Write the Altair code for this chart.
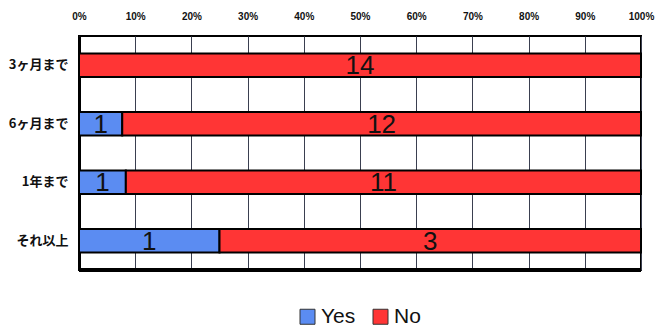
import altair as alt
import pandas as pd

categories = ["3ヶ月まで", "6ヶ月まで", "1年まで", "それ以上"]
yes_counts = [0, 1, 1, 1]
no_counts = [14, 12, 11, 3]
responses = ["Yes", "No"]
colors = ["#5b8cf2", "#ff3535"]
tick_values = [0, 0.1, 0.2, 0.3, 0.4, 0.5, 0.6, 0.7, 0.8, 0.9, 1.0]

rows = []
for c, y, n in zip(categories, yes_counts, no_counts):
    rows.append({"category": c, "response": "Yes", "count": y, "ord": 0})
    rows.append({"category": c, "response": "No", "count": n, "ord": 1})
df = pd.DataFrame(rows)

W, H = 562, 234

y_axis = alt.Axis(
    title=None,
    labelFont="Noto Sans CJK JP",
    labelFontWeight="bold",
    labelFontSize=13,
    labelColor="#111111",
    labelPadding=11,
    ticks=False,
    domainColor="#000000",
    domainWidth=3,
)
y_scale = alt.Scale(paddingInner=0.6, paddingOuter=0.3)

x_axis = alt.Axis(
    orient="top",
    format=".0%",
    title=None,
    values=tick_values,
    labelOverlap=False,
    labelFlush=False,
    labelFont="Liberation Sans",
    labelFontWeight="bold",
    labelFontSize=10,
    labelColor="#111111",
    labelPadding=15,
    ticks=False,
    domain=False,
    grid=True,
    gridColor="#3a3f50",
    gridWidth=1,
)
x_scale = alt.Scale(domain=[0, 1])

bars = alt.Chart(df).mark_bar(stroke="#000000", strokeWidth=2).encode(
    x=alt.X("count:Q", stack="normalize", scale=x_scale, axis=x_axis),
    y=alt.Y("category:N", sort=categories, scale=y_scale, axis=y_axis),
    color=alt.Color(
        "response:N",
        scale=alt.Scale(domain=responses, range=colors),
        legend=alt.Legend(
            title=None,
            orient="none",
            legendX=218,
            legendY=270,
            direction="horizontal",
            symbolType="square",
            symbolSize=225,
            symbolStrokeColor="#333333",
            symbolStrokeWidth=1,
            labelFont="Liberation Sans",
            labelFontSize=21,
            labelColor="#111111",
            labelOffset=3,
            columnPadding=14,
        ),
    ),
    order=alt.Order("ord:Q"),
)

labels = (
    alt.Chart(df)
    .transform_joinaggregate(total="sum(count)", groupby=["category"])
    .transform_window(cum="sum(count)", sort=[alt.SortField("ord")], groupby=["category"], frame=[None, 0])
    .transform_filter("datum.count > 0")
    .transform_calculate(mid="(datum.cum - datum.count / 2) / datum.total")
    .mark_text(
        font="Liberation Sans",
        fontSize=26,
        color="#111111",
        baseline="middle",
        align="center",
        dy=1,
    )
    .encode(
        x=alt.X("mid:Q", scale=x_scale, axis=x_axis),
        y=alt.Y("category:N", sort=categories, scale=y_scale, axis=y_axis),
        text=alt.Text("count:Q"),
    )
)

bottom = alt.Chart(df).mark_rule(color="#000000", strokeWidth=3).encode(
    x=alt.value(0), x2=alt.value(W), y=alt.value(H)
)

chart = (
    alt.layer(bars, labels, bottom)
    .properties(
        width=W,
        height=H,
        autosize=alt.AutoSizeParams(type="none"),
        padding={"left": 79, "top": 36, "right": 17, "bottom": 58},
        background="#ffffff",
    )
    .configure_view(stroke="#000000", strokeWidth=2)
)

chart.save("out.html", embed_options={"renderer": "svg", "actions": False})
